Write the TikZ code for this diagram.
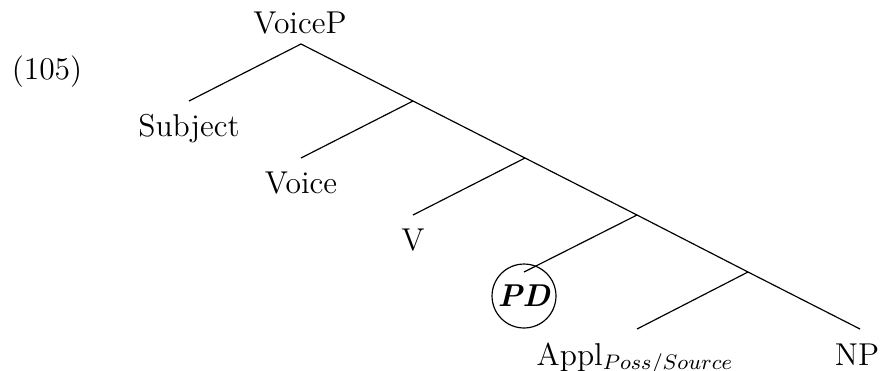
\documentclass[tikz,12pt,border=0pt]{standalone}
\begin{document}
\begin{tikzpicture}[x=0.38pt,y=-0.38pt,
  lab/.style={anchor=base,inner sep=0pt,font=\normalsize},
  branch/.style={line width=0.45pt},
  circ/.style={draw,circle,line width=0.45pt,minimum size=24.3pt,inner sep=0pt,font=\normalsize}]
\useasboundingbox (0,0) rectangle (880,370);
% junctions
\coordinate (r) at (301,44);
\coordinate (j1) at (413,101);
\coordinate (j2) at (525,158);
\coordinate (j3) at (637,215);
\coordinate (j4) at (748,272);
% leaf ends
\coordinate (eSubj) at (189,101);
\coordinate (eVoice) at (301,158);
\coordinate (eV) at (413,215);
\coordinate (ePD) at (524,272);
\coordinate (eAppl) at (637,329);
\coordinate (eNP) at (860,329);
% labels
\node[lab] (num) at (47,79) {(105)};
\node[lab] (voicep) at (300,33) {VoiceP};
\node[lab] (subj) at (189,136) {Subject};
\node[lab] (voice) at (301,193) {Voice};
\node[lab] (v) at (413,250) {V};
\node[circ] (pd) at (524,296) {\textbf{\textit{PD}}};
\node[lab] (appl) at (635,365) {Appl$_{Poss/Source}$};
\node[lab] (np) at (857,365) {NP};
% branches
\draw[branch] (eSubj) -- (r) -- (j1) -- (j2) -- (j3) -- (j4) -- (eNP);
\draw[branch] (j1) -- (eVoice);
\draw[branch] (j2) -- (eV);
\draw[branch] (j3) -- (ePD);
\draw[branch] (j4) -- (eAppl);
\end{tikzpicture}
\end{document}
